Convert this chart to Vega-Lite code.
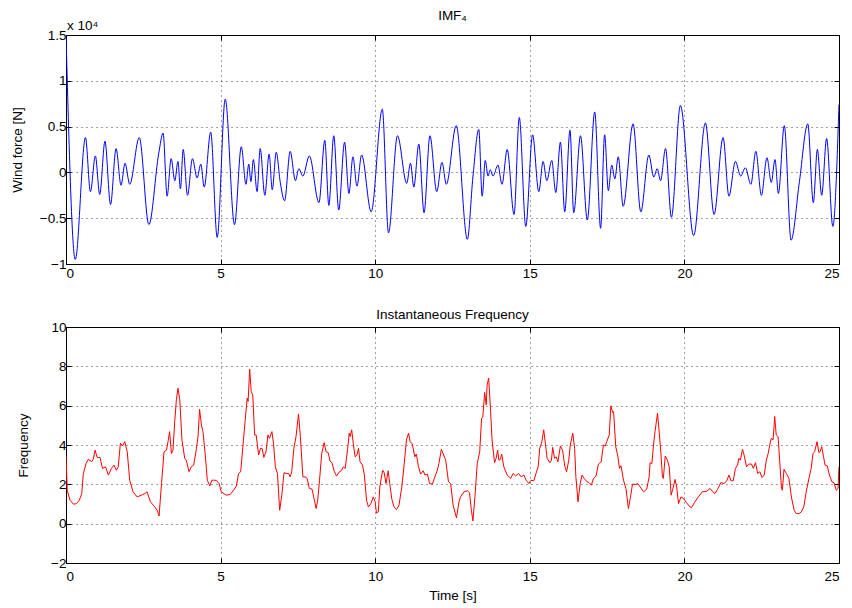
{
  "$schema": "https://vega.github.io/schema/vega-lite/v6.json",
  "background": "white",
  "padding": {"left": 9, "top": 8, "right": 10, "bottom": 6},
  "datasets": {
    "imf": [
      {"t":0,"v":15000},{"t":0.30,"v":-9500},{"t":0.63,"v":3800},{"t":0.79,"v":-2100},{"t":0.95,"v":1800},{"t":1.09,"v":-2400},{"t":1.26,"v":3400},{"t":1.44,"v":-3500},{"t":1.62,"v":2600},{"t":1.78,"v":-1400},{"t":1.91,"v":1000},{"t":2.06,"v":-1300},{"t":2.37,"v":3800},{"t":2.68,"v":-5700},{"t":3.00,"v":2100},{"t":3.14,"v":4300},{"t":3.27,"v":-2600},{"t":3.40,"v":1500},{"t":3.52,"v":-900},{"t":3.62,"v":1200},{"t":3.70,"v":-1800},{"t":3.79,"v":2500},{"t":3.93,"v":-2500},{"t":4.09,"v":1500},{"t":4.24,"v":-600},{"t":4.36,"v":900},{"t":4.47,"v":-1600},{"t":4.68,"v":4400},{"t":4.89,"v":-7100},{"t":5.15,"v":8000},{"t":5.45,"v":-5700},{"t":5.67,"v":2800},{"t":5.82,"v":-1300},{"t":5.91,"v":900},{"t":5.98,"v":-1000},{"t":6.06,"v":1400},{"t":6.18,"v":-2100},{"t":6.28,"v":2600},{"t":6.43,"v":-2500},{"t":6.57,"v":2000},{"t":6.67,"v":-1900},{"t":6.80,"v":2200},{"t":6.93,"v":-1100},{"t":7.07,"v":-3100},{"t":7.25,"v":2300},{"t":7.42,"v":-900},{"t":7.53,"v":400},{"t":7.66,"v":-400},{"t":7.87,"v":1800},{"t":8.18,"v":-3300},{"t":8.37,"v":3500},{"t":8.50,"v":-3600},{"t":8.66,"v":4000},{"t":8.82,"v":-4100},{"t":9.01,"v":3300},{"t":9.15,"v":-2300},{"t":9.28,"v":1700},{"t":9.41,"v":-1500},{"t":9.56,"v":1900},{"t":9.87,"v":-4300},{"t":10.23,"v":6900},{"t":10.43,"v":-6600},{"t":10.72,"v":4000},{"t":11.02,"v":-1200},{"t":11.14,"v":1000},{"t":11.25,"v":-1600},{"t":11.41,"v":3100},{"t":11.58,"v":-4400},{"t":11.77,"v":4000},{"t":11.99,"v":-2100},{"t":12.16,"v":1100},{"t":12.30,"v":-1300},{"t":12.62,"v":5100},{"t":12.98,"v":-7300},{"t":13.16,"v":-500},{"t":13.35,"v":4700},{"t":13.46,"v":-2600},{"t":13.56,"v":1300},{"t":13.65,"v":-400},{"t":13.72,"v":300},{"t":13.81,"v":-400},{"t":13.97,"v":800},{"t":14.10,"v":-1300},{"t":14.27,"v":2500},{"t":14.49,"v":-4600},{"t":14.66,"v":6000},{"t":14.87,"v":-5900},{"t":15.09,"v":4100},{"t":15.29,"v":-2100},{"t":15.43,"v":1200},{"t":15.55,"v":-900},{"t":15.71,"v":1300},{"t":15.84,"v":-2200},{"t":15.99,"v":3300},{"t":16.13,"v":-4300},{"t":16.30,"v":4600},{"t":16.42,"v":-4400},{"t":16.64,"v":4000},{"t":16.86,"v":-5200},{"t":17.10,"v":6600},{"t":17.29,"v":-6100},{"t":17.42,"v":4100},{"t":17.54,"v":-2000},{"t":17.65,"v":800},{"t":17.75,"v":-700},{"t":17.86,"v":1700},{"t":18.02,"v":-3700},{"t":18.34,"v":5300},{"t":18.59,"v":-4300},{"t":18.85,"v":1900},{"t":19.01,"v":-500},{"t":19.12,"v":400},{"t":19.23,"v":-900},{"t":19.39,"v":2600},{"t":19.58,"v":-4900},{"t":19.87,"v":7300},{"t":20.30,"v":-6900},{"t":20.68,"v":5400},{"t":20.96,"v":-4600},{"t":21.25,"v":3800},{"t":21.44,"v":-2600},{"t":21.65,"v":1200},{"t":21.82,"v":-400},{"t":21.97,"v":500},{"t":22.15,"v":-1300},{"t":22.31,"v":2300},{"t":22.49,"v":-2500},{"t":22.67,"v":1600},{"t":22.81,"v":-1100},{"t":22.93,"v":1400},{"t":23.04,"v":-2300},{"t":23.23,"v":5100},{"t":23.45,"v":-7400},{"t":23.72,"v":-1000},{"t":23.99,"v":5300},{"t":24.17,"v":-3300},{"t":24.30,"v":2500},{"t":24.44,"v":-2500},{"t":24.60,"v":3700},{"t":24.80,"v":-5900},{"t":25.00,"v":7400}
    ],
    "freq": [
      {"t":0,"f":3.44},{"t":0.04,"f":1.70},{"t":0.13,"f":1.19},{"t":0.24,"f":0.99},{"t":0.34,"f":1.02},{"t":0.43,"f":1.19},{"t":0.51,"f":1.53},{"t":0.56,"f":2.55},{"t":0.65,"f":3.06},{"t":0.72,"f":3.27},{"t":0.83,"f":3.15},{"t":0.88,"f":3.27},{"t":0.94,"f":3.74},{"t":1.01,"f":3.37},{"t":1.10,"f":3.37},{"t":1.18,"f":2.81},{"t":1.28,"f":2.89},{"t":1.37,"f":2.47},{"t":1.47,"f":2.81},{"t":1.55,"f":2.98},{"t":1.63,"f":2.72},{"t":1.69,"f":2.89},{"t":1.76,"f":4.09},{"t":1.83,"f":3.95},{"t":1.90,"f":4.17},{"t":1.98,"f":3.66},{"t":2.06,"f":2.21},{"t":2.17,"f":1.62},{"t":2.30,"f":1.36},{"t":2.44,"f":1.45},{"t":2.55,"f":1.53},{"t":2.62,"f":1.62},{"t":2.73,"f":1.11},{"t":2.87,"f":0.85},{"t":2.95,"f":0.68},{"t":3.01,"f":0.39},{"t":3.09,"f":2.04},{"t":3.17,"f":3.66},{"t":3.25,"f":3.74},{"t":3.30,"f":4.17},{"t":3.35,"f":4.68},{"t":3.41,"f":3.57},{"t":3.46,"f":3.74},{"t":3.52,"f":5.28},{"t":3.57,"f":6.30},{"t":3.62,"f":6.89},{"t":3.68,"f":6.30},{"t":3.75,"f":4.26},{"t":3.84,"f":3.32},{"t":3.89,"f":3.23},{"t":3.98,"f":2.64},{"t":4.05,"f":2.89},{"t":4.13,"f":2.98},{"t":4.22,"f":3.83},{"t":4.27,"f":4.43},{"t":4.32,"f":5.82},{"t":4.38,"f":5.02},{"t":4.43,"f":4.68},{"t":4.51,"f":3.40},{"t":4.57,"f":2.21},{"t":4.65,"f":1.92},{"t":4.72,"f":2.21},{"t":4.81,"f":2.21},{"t":4.88,"f":2.18},{"t":4.95,"f":2.04},{"t":5.02,"f":1.62},{"t":5.18,"f":1.45},{"t":5.31,"f":1.48},{"t":5.42,"f":1.70},{"t":5.51,"f":1.91},{"t":5.58,"f":2.55},{"t":5.65,"f":2.64},{"t":5.72,"f":3.91},{"t":5.81,"f":5.53},{"t":5.86,"f":6.38},{"t":5.89,"f":6.21},{"t":5.94,"f":7.86},{"t":5.99,"f":6.72},{"t":6.04,"f":6.55},{"t":6.10,"f":4.51},{"t":6.15,"f":4.51},{"t":6.23,"f":3.49},{"t":6.29,"f":3.83},{"t":6.34,"f":3.83},{"t":6.40,"f":3.37},{"t":6.47,"f":3.66},{"t":6.53,"f":4.51},{"t":6.58,"f":4.34},{"t":6.66,"f":4.68},{"t":6.71,"f":4.09},{"t":6.77,"f":2.89},{"t":6.84,"f":2.55},{"t":6.91,"f":0.68},{"t":6.98,"f":1.45},{"t":7.05,"f":2.59},{"t":7.14,"f":2.55},{"t":7.20,"f":2.55},{"t":7.25,"f":2.38},{"t":7.30,"f":2.64},{"t":7.37,"f":3.83},{"t":7.44,"f":4.43},{"t":7.52,"f":5.58},{"t":7.58,"f":4.43},{"t":7.66,"f":2.38},{"t":7.73,"f":2.38},{"t":7.80,"f":2.30},{"t":7.87,"f":1.79},{"t":7.96,"f":1.75},{"t":8.01,"f":1.36},{"t":8.09,"f":0.77},{"t":8.14,"f":1.19},{"t":8.20,"f":2.21},{"t":8.27,"f":3.57},{"t":8.35,"f":4.12},{"t":8.41,"f":3.66},{"t":8.48,"f":3.61},{"t":8.54,"f":3.18},{"t":8.60,"f":3.10},{"t":8.68,"f":2.64},{"t":8.75,"f":2.42},{"t":8.84,"f":2.64},{"t":8.90,"f":2.69},{"t":8.97,"f":2.89},{"t":9.03,"f":2.81},{"t":9.11,"f":3.83},{"t":9.16,"f":4.60},{"t":9.19,"f":4.43},{"t":9.24,"f":4.77},{"t":9.29,"f":4.09},{"t":9.35,"f":3.40},{"t":9.41,"f":3.49},{"t":9.46,"f":3.83},{"t":9.51,"f":3.15},{"t":9.59,"f":2.98},{"t":9.65,"f":2.47},{"t":9.72,"f":1.19},{"t":9.78,"f":0.85},{"t":9.86,"f":1.02},{"t":9.94,"f":1.36},{"t":10.00,"f":1.11},{"t":10.04,"f":0.54},{"t":10.10,"f":0.60},{"t":10.15,"f":1.87},{"t":10.24,"f":2.72},{"t":10.29,"f":2.59},{"t":10.35,"f":2.04},{"t":10.42,"f":2.69},{"t":10.47,"f":2.04},{"t":10.54,"f":1.23},{"t":10.61,"f":0.85},{"t":10.69,"f":0.71},{"t":10.77,"f":0.94},{"t":10.86,"f":1.87},{"t":10.94,"f":3.06},{"t":11.01,"f":4.26},{"t":11.08,"f":4.60},{"t":11.13,"f":4.17},{"t":11.20,"f":4.05},{"t":11.28,"f":3.40},{"t":11.33,"f":3.54},{"t":11.40,"f":2.89},{"t":11.47,"f":2.52},{"t":11.55,"f":2.69},{"t":11.61,"f":2.47},{"t":11.69,"f":2.52},{"t":11.76,"f":2.04},{"t":11.85,"f":2.01},{"t":11.93,"f":2.38},{"t":12.01,"f":2.72},{"t":12.06,"f":3.06},{"t":12.14,"f":3.78},{"t":12.28,"f":3.23},{"t":12.37,"f":2.13},{"t":12.44,"f":2.04},{"t":12.52,"f":0.94},{"t":12.63,"f":0.29},{"t":12.71,"f":1.11},{"t":12.76,"f":1.36},{"t":12.87,"f":1.62},{"t":12.98,"f":1.67},{"t":13.05,"f":1.58},{"t":13.11,"f":0.68},{"t":13.16,"f":0.14},{"t":13.23,"f":1.45},{"t":13.30,"f":3.06},{"t":13.38,"f":3.66},{"t":13.44,"f":5.36},{"t":13.48,"f":5.41},{"t":13.54,"f":6.67},{"t":13.59,"f":6.04},{"t":13.62,"f":7.06},{"t":13.67,"f":7.40},{"t":13.73,"f":5.79},{"t":13.78,"f":4.26},{"t":13.86,"f":3.10},{"t":13.91,"f":3.32},{"t":13.96,"f":3.74},{"t":14.00,"f":3.23},{"t":14.05,"f":3.27},{"t":14.09,"f":3.54},{"t":14.16,"f":2.89},{"t":14.27,"f":2.47},{"t":14.38,"f":2.30},{"t":14.46,"f":2.55},{"t":14.54,"f":2.43},{"t":14.64,"f":2.55},{"t":14.72,"f":2.38},{"t":14.81,"f":2.47},{"t":14.88,"f":2.21},{"t":14.97,"f":2.04},{"t":15.04,"f":2.21},{"t":15.13,"f":2.18},{"t":15.20,"f":2.55},{"t":15.27,"f":2.89},{"t":15.32,"f":3.83},{"t":15.38,"f":4.09},{"t":15.45,"f":4.77},{"t":15.51,"f":4.00},{"t":15.56,"f":3.32},{"t":15.65,"f":3.10},{"t":15.70,"f":3.23},{"t":15.74,"f":3.88},{"t":15.80,"f":3.32},{"t":15.85,"f":3.40},{"t":15.91,"f":3.15},{"t":15.99,"f":3.95},{"t":16.06,"f":3.74},{"t":16.13,"f":2.93},{"t":16.19,"f":2.64},{"t":16.26,"f":3.23},{"t":16.31,"f":4.00},{"t":16.39,"f":4.60},{"t":16.45,"f":3.83},{"t":16.49,"f":2.38},{"t":16.56,"f":1.11},{"t":16.63,"f":2.04},{"t":16.69,"f":2.47},{"t":16.76,"f":2.30},{"t":16.85,"f":2.13},{"t":16.92,"f":2.08},{"t":16.99,"f":1.96},{"t":17.06,"f":2.30},{"t":17.14,"f":2.42},{"t":17.22,"f":3.03},{"t":17.31,"f":3.15},{"t":17.38,"f":4.00},{"t":17.44,"f":3.95},{"t":17.49,"f":4.17},{"t":17.57,"f":4.51},{"t":17.62,"f":5.99},{"t":17.68,"f":5.65},{"t":17.71,"f":5.70},{"t":17.78,"f":3.91},{"t":17.85,"f":3.40},{"t":17.90,"f":2.81},{"t":17.95,"f":2.94},{"t":18.03,"f":2.21},{"t":18.11,"f":1.79},{"t":18.19,"f":0.77},{"t":18.25,"f":1.28},{"t":18.32,"f":2.01},{"t":18.41,"f":1.99},{"t":18.49,"f":2.04},{"t":18.57,"f":1.87},{"t":18.68,"f":1.62},{"t":18.78,"f":1.75},{"t":18.86,"f":2.38},{"t":18.89,"f":3.10},{"t":18.95,"f":3.06},{"t":19.00,"f":4.00},{"t":19.05,"f":4.68},{"t":19.13,"f":5.62},{"t":19.18,"f":4.77},{"t":19.24,"f":3.57},{"t":19.29,"f":2.38},{"t":19.32,"f":2.30},{"t":19.38,"f":3.44},{"t":19.45,"f":3.23},{"t":19.51,"f":2.89},{"t":19.57,"f":1.45},{"t":19.63,"f":1.79},{"t":19.70,"f":2.25},{"t":19.75,"f":1.87},{"t":19.81,"f":1.02},{"t":19.89,"f":1.36},{"t":19.97,"f":1.28},{"t":20.07,"f":1.06},{"t":20.18,"f":0.85},{"t":20.23,"f":0.82},{"t":20.32,"f":1.06},{"t":20.45,"f":1.36},{"t":20.58,"f":1.62},{"t":20.72,"f":1.65},{"t":20.83,"f":1.79},{"t":20.90,"f":1.65},{"t":20.99,"f":1.53},{"t":21.07,"f":1.74},{"t":21.18,"f":2.09},{"t":21.28,"f":2.04},{"t":21.37,"f":2.18},{"t":21.44,"f":2.47},{"t":21.51,"f":2.18},{"t":21.58,"f":2.18},{"t":21.65,"f":2.81},{"t":21.72,"f":2.98},{"t":21.76,"f":3.32},{"t":21.81,"f":3.23},{"t":21.88,"f":3.78},{"t":21.93,"f":3.49},{"t":22.01,"f":2.89},{"t":22.08,"f":3.03},{"t":22.17,"f":3.03},{"t":22.23,"f":2.81},{"t":22.30,"f":3.10},{"t":22.37,"f":2.55},{"t":22.44,"f":2.64},{"t":22.51,"f":2.35},{"t":22.58,"f":2.47},{"t":22.65,"f":3.23},{"t":22.71,"f":3.57},{"t":22.76,"f":4.00},{"t":22.81,"f":4.34},{"t":22.87,"f":4.26},{"t":22.92,"f":5.45},{"t":22.97,"f":4.51},{"t":23.03,"f":4.43},{"t":23.08,"f":3.23},{"t":23.14,"f":1.79},{"t":23.17,"f":1.70},{"t":23.22,"f":2.76},{"t":23.30,"f":2.55},{"t":23.38,"f":2.30},{"t":23.46,"f":1.36},{"t":23.55,"f":0.68},{"t":23.62,"f":0.51},{"t":23.71,"f":0.51},{"t":23.78,"f":0.60},{"t":23.86,"f":0.85},{"t":23.94,"f":1.62},{"t":24.05,"f":2.47},{"t":24.10,"f":2.81},{"t":24.16,"f":3.57},{"t":24.21,"f":3.66},{"t":24.29,"f":4.17},{"t":24.35,"f":3.61},{"t":24.39,"f":3.66},{"t":24.44,"f":3.91},{"t":24.50,"f":3.40},{"t":24.55,"f":2.98},{"t":24.62,"f":2.94},{"t":24.69,"f":2.47},{"t":24.77,"f":2.13},{"t":24.84,"f":2.08},{"t":24.91,"f":1.70},{"t":24.97,"f":1.79},{"t":25.00,"f":2.89}
    ]
  },
  "vconcat": [
    {
      "width": 773,
      "height": 229,
      "title": {"text": "IMF₄", "offset": -3},
      "data": {"name": "imf"},
      "layer": [
        {
          "mark": {"type": "line", "color": "#0000ff", "strokeWidth": 1, "clip": true, "interpolate": "monotone"},
          "encoding": {
            "x": {"field": "t", "type": "quantitative", "scale": {"domain": [0, 25], "nice": false},
                  "axis": {"values": [0, 5, 10, 15, 20, 25], "title": null, "grid": true, "orient": "bottom", "labelPadding": 7}},
            "y": {"field": "v", "type": "quantitative", "scale": {"domain": [-10000, 15000], "nice": false},
                  "axis": {"values": [-10000, -5000, 0, 5000, 10000, 15000], "title": "Wind force [N]", "grid": true, "orient": "left",
                           "labelExpr": "format(datum.value/10000, '~g')", "titleX": -49, "titleBaseline": "middle"}}
          }
        },
        {
          "mark": {"type": "line", "opacity": 0},
          "encoding": {
            "x": {"field": "t", "type": "quantitative", "axis": {"values": [0, 5, 10, 15, 20, 25], "orient": "top", "labels": false, "title": null, "grid": false}},
            "y": {"field": "v", "type": "quantitative", "axis": {"values": [-10000, -5000, 0, 5000, 10000, 15000], "orient": "right", "labels": false, "title": null, "grid": false}}
          }
        },
        {
          "data": {"values": [{"label": "x 10⁴"}]},
          "mark": {"type": "text", "align": "left", "baseline": "alphabetic", "dy": -5, "dx": 1, "fontSize": 13.5, "font": "Liberation Sans"},
          "encoding": {
            "x": {"datum": 0, "type": "quantitative", "axis": null},
            "y": {"datum": 15000, "type": "quantitative", "axis": null},
            "text": {"field": "label"}
          }
        }
      ],
      "resolve": {"axis": {"x": "independent", "y": "independent"}}
    },
    {
      "width": 773,
      "height": 236,
      "title": {"text": "Instantaneous Frequency", "offset": -1},
      "data": {"name": "freq"},
      "layer": [
        {
          "mark": {"type": "line", "color": "#ff0000", "strokeWidth": 1, "clip": true},
          "encoding": {
            "x": {"field": "t", "type": "quantitative", "scale": {"domain": [0, 25], "nice": false},
                  "axis": {"values": [0, 5, 10, 15, 20, 25], "title": "Time [s]", "grid": true, "orient": "bottom", "labelPadding": 11, "titlePadding": 6}},
            "y": {"field": "f", "type": "quantitative", "scale": {"domain": [-2, 10], "nice": false},
                  "axis": {"values": [-2, 0, 2, 4, 6, 8, 10], "title": "Frequency", "grid": true, "orient": "left", "titleX": -43, "titleBaseline": "middle"}}
          }
        },
        {
          "mark": {"type": "line", "opacity": 0},
          "encoding": {
            "x": {"field": "t", "type": "quantitative", "axis": {"values": [0, 5, 10, 15, 20, 25], "orient": "top", "labels": false, "title": null, "grid": false}},
            "y": {"field": "f", "type": "quantitative", "axis": {"values": [-2, 0, 2, 4, 6, 8, 10], "orient": "right", "labels": false, "title": null, "grid": false}}
          }
        }
      ],
      "resolve": {"axis": {"x": "independent", "y": "independent"}}
    }
  ],
  "spacing": 27,
  "config": {
    "font": "Liberation Sans",
    "view": {"stroke": "black", "strokeWidth": 1},
    "axis": {
      "domain": false,
      "ticks": true,
      "tickSize": -5,
      "tickColor": "black",
      "tickWidth": 1,
      "labelFont": "Liberation Sans",
      "labelFontSize": 13.5,
      "labelColor": "black",
      "labelPadding": 5,
      "titleFont": "Liberation Sans",
      "titleFontSize": 13.5,
      "titleFontWeight": "normal",
      "titleColor": "black",
      "gridColor": "#000000",
      "gridOpacity": 0.75,
      "gridDash": [1, 4],
      "gridWidth": 1
    },
    "title": {"font": "Liberation Sans", "fontSize": 13.5, "fontWeight": "normal", "color": "black", "anchor": "middle"}
  }
}
